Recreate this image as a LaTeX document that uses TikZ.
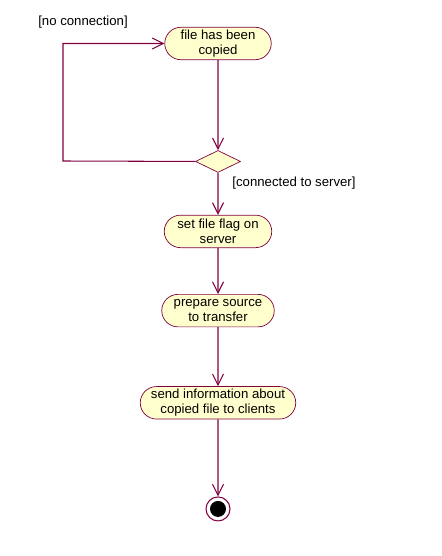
\documentclass[tikz,border=0pt]{standalone}
\usepackage{fontspec}
\setmainfont{Liberation Sans}
\usepackage{xcolor}
\usepackage{tikz}
\usetikzlibrary{shapes.geometric,shapes.misc,arrows.meta,positioning}
\definecolor{umlred}{RGB}{128,0,64}
\definecolor{actfill}{RGB}{255,255,206}

\begin{document}
\begin{tikzpicture}[font=\fontsize{7.5pt}{8.6pt}\selectfont, act/.style={draw=umlred, fill=actfill, rounded rectangle, align=center, inner sep=1pt, minimum height=0.65cm}, arr/.style={-{Straight Barb[length=2.2mm, width=2.2mm]}, umlred, line width=0.6pt}]
\useasboundingbox (0,0) rectangle (8.84,-11.12);
\node[act, minimum width=2.2cm] (copied) at (4.36,-0.87) {file has been\\copied};
\node[diamond, draw=umlred, fill=actfill, minimum width=0.9cm, minimum height=0.44cm, inner sep=0pt, below=1.8cm of copied] (dec) {};
\node[act, minimum width=2.22cm, below=0.84cm of dec] (flag) {set file flag on\\server};
\node[act, minimum width=2.32cm, below=0.92cm of flag] (prep) {prepare source\\to transfer};
\node[act, minimum width=3.18cm, below=1.18cm of prep] (send) {send information about\\copied file to clients};
\node[circle, draw=umlred, line width=0.6pt, minimum size=0.48cm, inner sep=0pt, below=1.54cm of send] (final) {};
\fill[black] (final.center) circle (0.16);
\draw[arr] (copied) -- (dec);
\draw[arr] (dec.west) -- (1.26,-3.22) |- (copied.west);
\draw[arr] (dec) -- (flag);
\draw[arr] (flag) -- (prep);
\draw[arr] (prep) -- (send);
\draw[arr] (send) -- (final);
\node (nocon) at (1.66,-0.44) {[no connection]};
\node (conn) at (5.88,-3.66) {[connected to server]};
\end{tikzpicture}
\end{document}
